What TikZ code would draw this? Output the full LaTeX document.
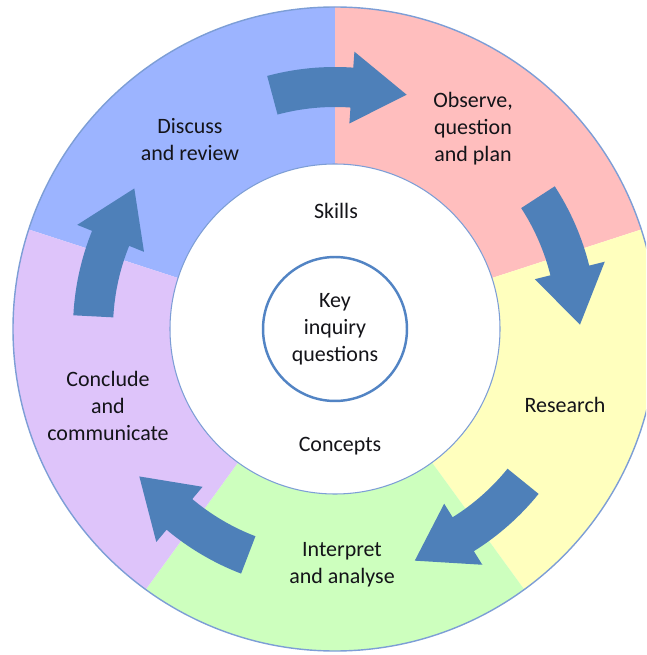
\documentclass[tikz,border=0pt]{standalone}
\usepackage{fontspec}
\setmainfont{Carlito}
\usetikzlibrary{positioning}
\definecolor{ringblue}{RGB}{156,180,255}
\definecolor{ringpink}{RGB}{255,190,190}
\definecolor{ringyellow}{RGB}{255,255,190}
\definecolor{ringgreen}{RGB}{205,255,190}
\definecolor{ringpurple}{RGB}{222,196,250}
\definecolor{arrowblue}{RGB}{78,128,185}
\definecolor{edgeblue}{RGB}{125,158,214}
\definecolor{keyblue}{RGB}{82,132,196}
\definecolor{textdark}{RGB}{20,20,25}

\begin{document}
\begin{tikzpicture}[x=0.02cm, y=0.02cm,
    label/.style={align=center, text=textdark, inner sep=0pt, font=\fontsize{12.5}{15.4}\selectfont}]
				\clip (-335,-326) rectangle (311,329);
				\useasboundingbox (-335,-326) rectangle (311,329);
				
				% Ring sectors
				\foreach \a/\col in {90/ringblue, 18/ringpink, -54/ringyellow, -126/ringgreen, 162/ringpurple}
				\fill[\col] (0,0) -- (\a:322) arc[start angle=\a, end angle=\a+72, radius=322] -- cycle;
				\draw[edgeblue, line width=0.8pt] (0,0) circle[radius=322];
				
				% Inner circles
				\draw[edgeblue, fill=white, line width=0.6pt] (0,0) circle[radius=165];
				\node[label, circle, draw=keyblue, line width=1.4pt, minimum size=2.88cm] (key) at (0,0) {Key\\inquiry\\questions};
				
				% Arrows
				\foreach \a in {90, 18, -54, -126, 162}
				\fill[arrowblue] (\a+15:262) arc[start angle=\a+15, end angle=\a-4, radius=262]
				-- (\a-4:278) -- (\a-17:245) -- (\a-4:206) -- (\a-4:222)
				arc[start angle=\a-4, end angle=\a+15, radius=222] -- cycle;
				
				% Labels
				\node[label] (discuss) at (-145,189) {Discuss\\and review};
				\node[label] (observe) at (138,200) {Observe,\\question\\and plan};
				\node[label] (research) at (230,-76) {Research};
				\node[label] (interpret) at (7,-236) {Interpret\\and analyse};
				\node[label] (conclude) at (-227,-77) {Conclude\\and\\communicate};
				\node[label] (skills) at (1,118) {Skills};
				\node[label] (concepts) at (5,-117) {Concepts};
			\end{tikzpicture}
\end{document}
